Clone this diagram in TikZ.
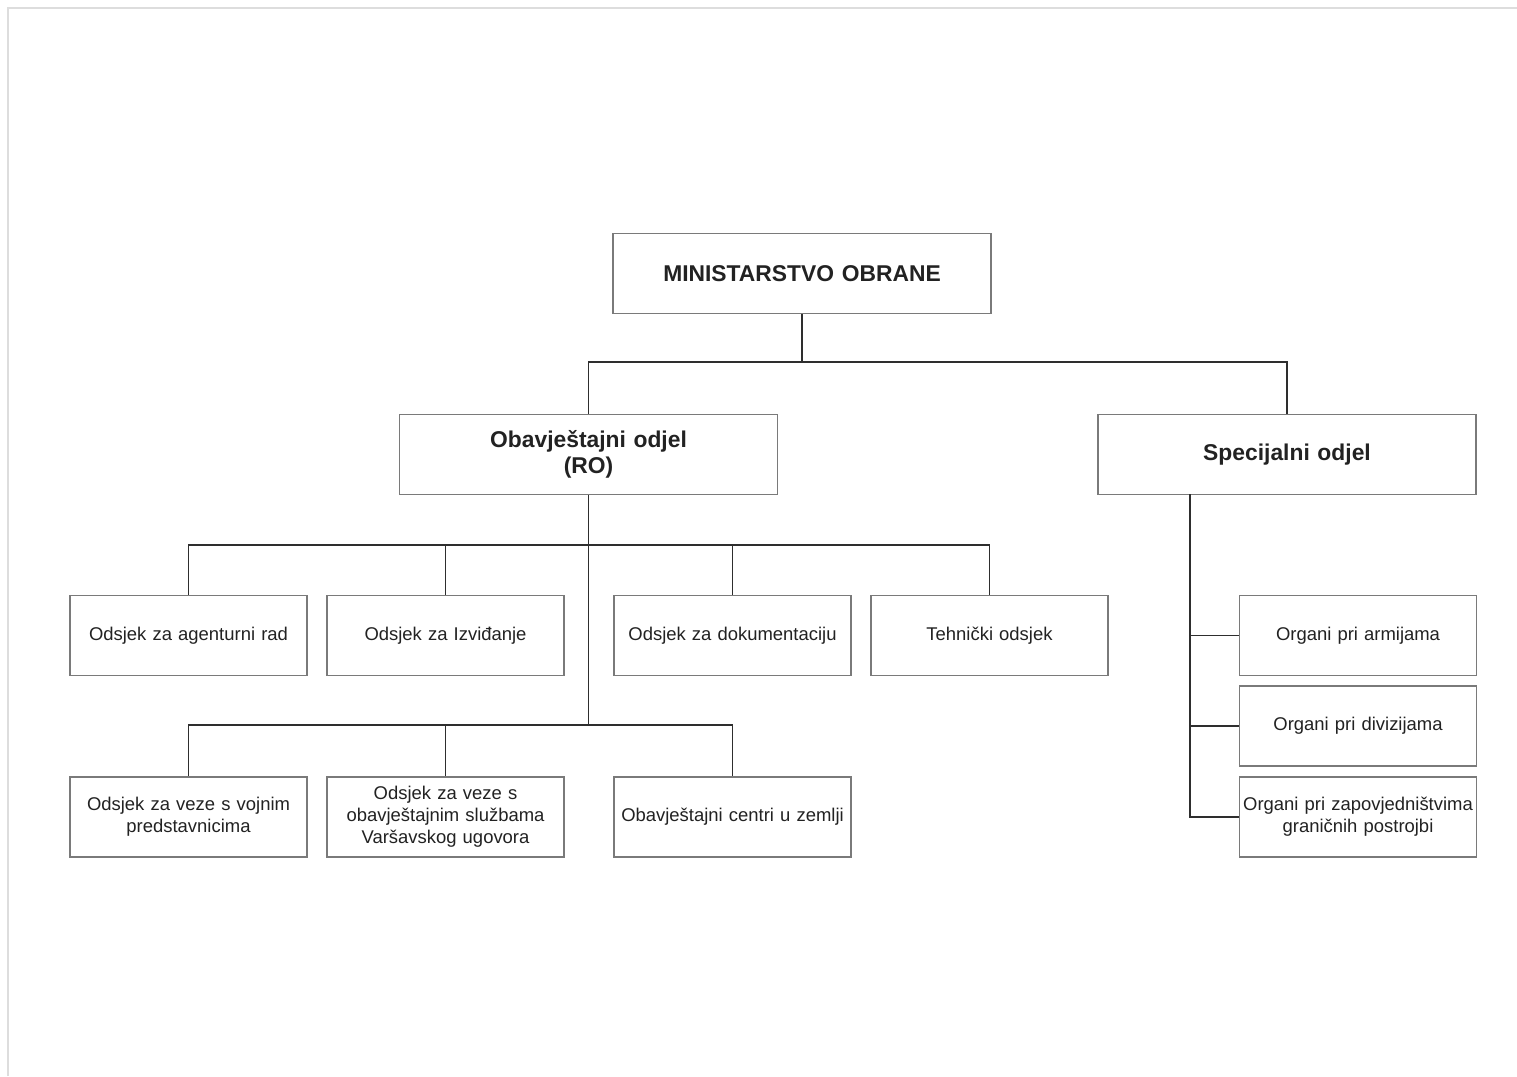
\documentclass[tikz,border=0pt]{standalone}
\usepackage{fontspec}
\setmainfont{Liberation Sans}
\usetikzlibrary{positioning,calc}

\definecolor{boxline}{HTML}{7A7A7A}
\definecolor{connline}{HTML}{2E2E2E}
\definecolor{textcol}{HTML}{222222}
\definecolor{framegray}{HTML}{DDDDDD}

\tikzset{
  unit/.style={draw=boxline, line width=0.7pt, fill=white, text=textcol,
    minimum width=4.74cm, minimum height=1.6cm, inner sep=0pt,
    text width=4.7cm, align=center, font=\fontsize{10.5}{12.6}\selectfont},
  dept/.style={unit, minimum width=7.56cm, text width=7.4cm,
    font=\bfseries\fontsize{13}{15}\selectfont},
  conn/.style={draw=connline, line width=1.1pt}
}

\begin{document}
\begin{tikzpicture}[x=0.02cm, y=-0.02cm]
            \useasboundingbox (0,0) rectangle (1517,1076);
            \draw[framegray, line width=1pt] (8,1076) -- (8,8) -- (1517,8);

            % top level
            \node[dept, minimum width=7.56cm] (mo) at (802,273.5) {MINISTARSTVO OBRANE};
            \node[dept] (ro) at (588.5,454.5) {Obavještajni odjel\\(RO)};
            \node[dept] (spec) at (1287,454.5) {Specijalni odjel};

            % sections of RO
            \node[unit] (a1) at (188.5,635.5) {Odsjek za agenturni rad};
            \node[unit] (a2) at (445.5,635.5) {Odsjek za Izviđanje};
            \node[unit] (a3) at (732.5,635.5) {Odsjek za dokumentaciju};
            \node[unit] (a4) at (989.5,635.5) {Tehnički odsjek};

            \node[unit] (b1) at (188.5,817) {Odsjek za veze s vojnim\\predstavnicima};
            \node[unit] (b2) at (445.5,817) {Odsjek za veze s\\obavještajnim službama\\Varšavskog ugovora};
            \node[unit] (b3) at (732.5,817) {Obavještajni centri u zemlji};

            % organs of the special department
            \node[unit] (c1) at (1358,635.5) {Organi pri armijama};
            \node[unit] (c2) at (1358,726) {Organi pri divizijama};
            \node[unit] (c3) at (1358,817) {Organi pri zapovjedništvima\\graničnih postrojbi};

            \coordinate (bus1) at (802,362);
            \coordinate (bus2) at (588.5,545);
            \coordinate (bus3) at (588.5,725);
            \coordinate (sp) at (1190,494);

            \draw[conn] (mo.south) -- (bus1);
            \draw[conn] (ro.north) |- (bus1) -| (spec.north);
            \draw[conn] (ro.south) -- (bus3);
            \foreach \n in {a1,a2,a3,a4}
                \draw[conn] (bus2) -| (\n.north);
            \foreach \n in {b1,b2,b3}
                \draw[conn] (bus3) -| (\n.north);
            \draw[conn] (sp) |- (c3.west);
            \foreach \n in {c1,c2}
                \draw[conn] (sp |- \n.west) -- (\n.west);

        \end{tikzpicture}
\end{document}
